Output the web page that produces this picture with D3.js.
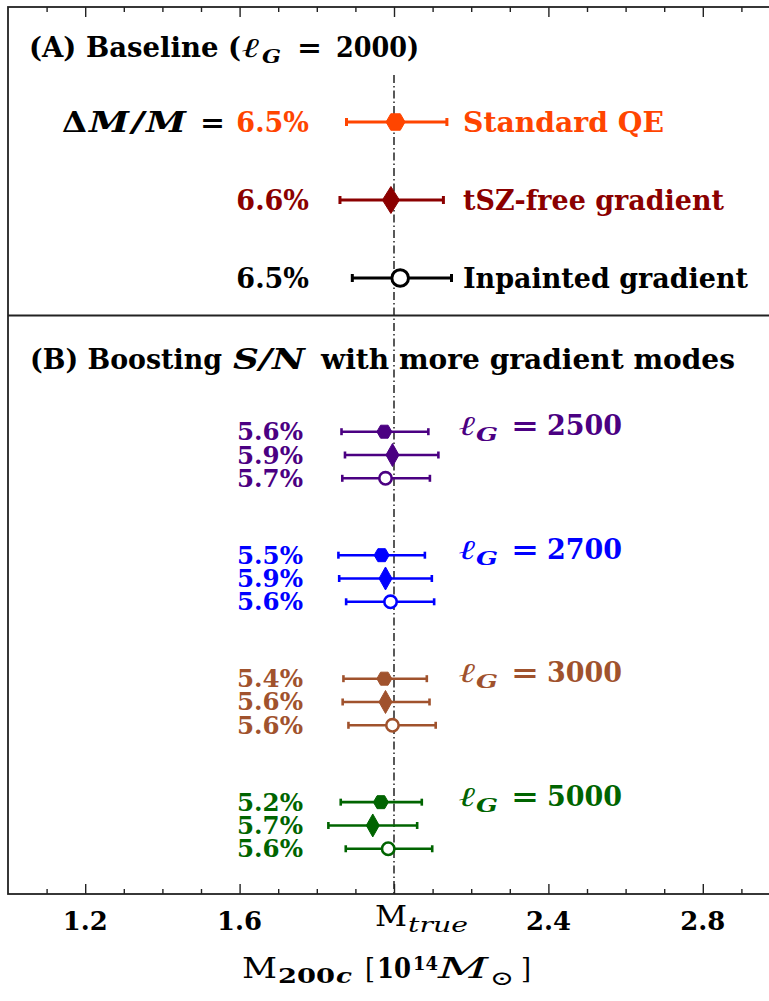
<!DOCTYPE html>
<html><head><meta charset="utf-8">
<script src="https://cdn.jsdelivr.net/npm/d3@7"></script>
<style>body{margin:0;background:#fff} svg{display:block;font-family:"DejaVu Serif",serif}</style>
</head><body><svg id="c" width="769" height="1001"></svg>
<script>
// ---- data ----
const methods = ["Standard QE", "tSZ-free gradient", "Inpainted gradient"];
const markerShapes = ["hexagon", "diamond", "circle"];
const baselineColors = ["#FF4500", "#8B0000", "#000000"];
const baselineMass = [2.004, 1.992, 2.016];
const baselineLo = [1.877, 1.860, 1.892];
const baselineHi = [2.137, 2.128, 2.149];
const baselinePct = ["6.5%", "6.6%", "6.5%"];

const ellG = [2500, 2700, 3000, 5000];
const groupColors = ["#4B0082", "#0000FF", "#A0522D", "#006400"];
const boostMass = [[1.975, 1.996, 1.978], [1.968, 1.978, 1.991], [1.975, 1.978, 1.996], [1.966, 1.945, 1.985]];
const boostLo = [[1.864, 1.873, 1.866], [1.856, 1.858, 1.876], [1.869, 1.867, 1.882], [1.862, 1.830, 1.875]];
const boostHi = [[2.089, 2.115, 2.093], [2.080, 2.098, 2.104], [2.085, 2.092, 2.108], [2.072, 2.060, 2.099]];
const boostPct = [["5.6%", "5.9%", "5.7%"], ["5.5%", "5.9%", "5.6%"], ["5.4%", "5.6%", "5.6%"], ["5.2%", "5.7%", "5.6%"]];

const xMajorTicks = [1.2, 1.6, 2.0, 2.4, 2.8];
const xMinorTicks = [1.1, 1.3, 1.4, 1.5, 1.7, 1.8, 1.9, 2.1, 2.2, 2.3, 2.5, 2.6, 2.7, 2.9];
const xTickLabels = ["1.2", "1.6", "M_true", "2.4", "2.8"];
const mTrue = 2.0;
const xDomain = [1.0, 3.0];

// ---- layout ----
const svg = d3.select("#c");
const fTop = 7, fBottom = 894, fLeft = 8, fRight = 780, divider = 315.5;
const x = d3.scaleLinear().domain(xDomain).range([fLeft, fRight]);
const yA = d3.scalePoint().domain([0, 1, 2]).range([122, 278]);
const groupStep = 5.3;
const yB = d3.scaleLinear().domain([0, 1]).range([431.7, 455]);

// text helper
function T(parent, s, tx, ty, size, o = {}) {
  const t = parent.append("text").attr("x", tx).attr("y", ty).attr("font-size", size).text(s)
    .attr("font-weight", o.weight || "bold").attr("fill", o.fill || "#000");
  if (o.style) t.attr("font-style", o.style);
  if (o.anchor) t.attr("text-anchor", o.anchor);
  if (o.w) t.attr("textLength", o.w).attr("lengthAdjust", "spacingAndGlyphs");
  return t;
}

// dash-dot reference line
svg.append("line").attr("x1", x(mTrue)).attr("x2", x(mTrue)).attr("y1", 75).attr("y2", fBottom)
  .attr("stroke", "#000").attr("stroke-width", 1.3).attr("stroke-dasharray", "8,3,1.5,3");

// frame
svg.append("rect").attr("x", fLeft).attr("y", fTop).attr("width", fRight - fLeft).attr("height", fBottom - fTop)
  .attr("fill", "none").attr("stroke", "#222").attr("stroke-width", 1.8);
svg.append("line").attr("x1", fLeft).attr("x2", fRight).attr("y1", divider).attr("y2", divider)
  .attr("stroke", "#222").attr("stroke-width", 2);

// ticks
function ticks(vals, len) {
  svg.append("g").attr("transform", `translate(0,${fTop})`)
    .call(d3.axisBottom(x).tickValues(vals).tickSize(len).tickFormat(""))
    .call(g => g.select(".domain").remove())
    .selectAll("line").attr("stroke", "#222").attr("stroke-width", 1.4);
  svg.append("g").attr("transform", `translate(0,${fBottom})`)
    .call(d3.axisTop(x).tickValues(vals).tickSize(len).tickFormat(""))
    .call(g => g.select(".domain").remove())
    .selectAll("line").attr("stroke", "#222").attr("stroke-width", 1.4);
}
ticks(xMajorTicks, 10);
ticks(xMinorTicks, 5);

// tick labels
xTickLabels.forEach((lab, i) => {
  const tx = x(xMajorTicks[i]);
  if (lab === "M_true") {
    T(svg, "M", tx - 19, 926, 28, { weight: "normal", w: 32 });
    T(svg, "true", tx + 14, 932, 20, { weight: "normal", style: "italic", w: 60 });
  } else T(svg, lab, tx, 930, 26, { anchor: "middle", w: 45 });
});

// axis label  M_200c [10^14 M_sun]
{
  const g = svg.append("g");
  T(g, "M", 242, 978, 28, { weight: "normal", w: 35 });
  T(g, "200", 278, 983, 20, { w: 57 });
  T(g, "c", 336, 983, 20, { style: "italic", w: 16 });
  T(g, "[", 365, 978, 28, { weight: "normal", w: 10 });
  T(g, "10", 377, 978, 28, { w: 34 });
  T(g, "14", 413, 970, 19, { w: 25 });
  T(g, "M", 438, 978, 28, { weight: "normal", style: "italic", w: 50 });
  T(g, "⊙", 490, 985, 20, { weight: "normal", w: 24 });
  T(g, "]", 521, 978, 28, { weight: "normal", w: 10 });
}

// marker helpers
function marker(g, shape, cx, cy, color, big) {
  if (shape === "hexagon") {
    const r = big ? 9.5 : 7.5;
    const pts = d3.range(6).map(k => [cx + r * Math.cos(k * Math.PI / 3), cy + r * Math.sin(k * Math.PI / 3)]);
    g.append("path").attr("d", d3.line()(pts) + "Z").attr("fill", color).attr("stroke", color).attr("stroke-width", 1);
  } else if (shape === "diamond") {
    const w = big ? 8.5 : 6.5, h = big ? 13.5 : 11.5;
    g.append("path").attr("d", d3.line()([[cx, cy - h], [cx + w, cy], [cx, cy + h], [cx - w, cy]]) + "Z")
      .attr("fill", color).attr("stroke", color).attr("stroke-width", 1);
  } else {
    g.append("circle").attr("cx", cx).attr("cy", cy).attr("r", big ? 8.3 : 6.2)
      .attr("fill", "#fff").attr("stroke", color).attr("stroke-width", big ? 3 : 2.6);
  }
}
function errbar(g, lo, hi, cy, color, big) {
  const sw = big ? 3 : 2.6, cap = big ? 4 : 3.5;
  g.append("line").attr("x1", x(lo)).attr("x2", x(hi)).attr("y1", cy).attr("y2", cy)
    .attr("stroke", color).attr("stroke-width", sw);
  [lo, hi].forEach(v => g.append("line").attr("x1", x(v)).attr("x2", x(v)).attr("y1", cy - cap).attr("y2", cy + cap)
    .attr("stroke", color).attr("stroke-width", sw));
}

// ---- Panel A ----
{
  const g = svg.append("g");
  T(g, "(A) Baseline (", 29, 57, 27, { w: 212 });
  T(g, "ℓ", 242, 57, 27, { style: "italic", w: 18 });
  T(g, "G", 262, 63, 19, { style: "italic", w: 19 });
  T(g, "=", 297, 57, 27, { w: 25 });
  T(g, "2000)", 336, 57, 27, { w: 83 });

  T(g, "Δ", 62, 132, 28, { w: 25 });
  T(g, "M", 89, 132, 28, { style: "italic", w: 40 });
  T(g, "/", 129, 132, 28, { weight: "normal", w: 18 });
  T(g, "M", 146, 132, 28, { style: "italic", w: 40 });
  T(g, "=", 200, 132, 28, { w: 25 });

  methods.forEach((m, i) => {
    const cy = yA(i), col = baselineColors[i];
    errbar(g, baselineLo[i], baselineHi[i], cy, col, true);
    marker(g, markerShapes[i], x(baselineMass[i]), cy, col, true);
    T(g, baselinePct[i], 309, cy + 10, 27, { anchor: "end", fill: col });
    T(g, m, 463, cy + 10, 27.5, { fill: col, w: [201, 261, 285][i] });
  });
}

// ---- Panel B ----
{
  const g = svg.append("g");
  T(g, "(B) Boosting", 30, 369, 27, { w: 192 });
  T(g, "S/N", 233, 369, 27, { style: "italic", w: 72 });
  T(g, "with more gradient modes", 321, 369, 27, { w: 414 });

  ellG.forEach((L, gi) => {
    const col = groupColors[gi];
    methods.forEach((m, r) => {
      const cy = yB(gi * groupStep + r);
      errbar(g, boostLo[gi][r], boostHi[gi][r], cy, col, false);
      marker(g, markerShapes[r], x(boostMass[gi][r]), cy, col, false);
      T(g, boostPct[gi][r], 303, cy + 8.5, 24, { anchor: "end", fill: col, w: 66 });
    });
    const cy0 = yB(gi * groupStep) + 3.5;
    T(g, "ℓ", 459, cy0, 27, { style: "italic", fill: col, w: 17 });
    T(g, "G", 476, cy0 + 6, 19, { style: "italic", fill: col, w: 22 });
    T(g, "=", 511, cy0, 27, { fill: col, w: 28 });
    T(g, String(L), 547, cy0, 27, { fill: col, w: 75 });
  });
}
</script></body></html>
